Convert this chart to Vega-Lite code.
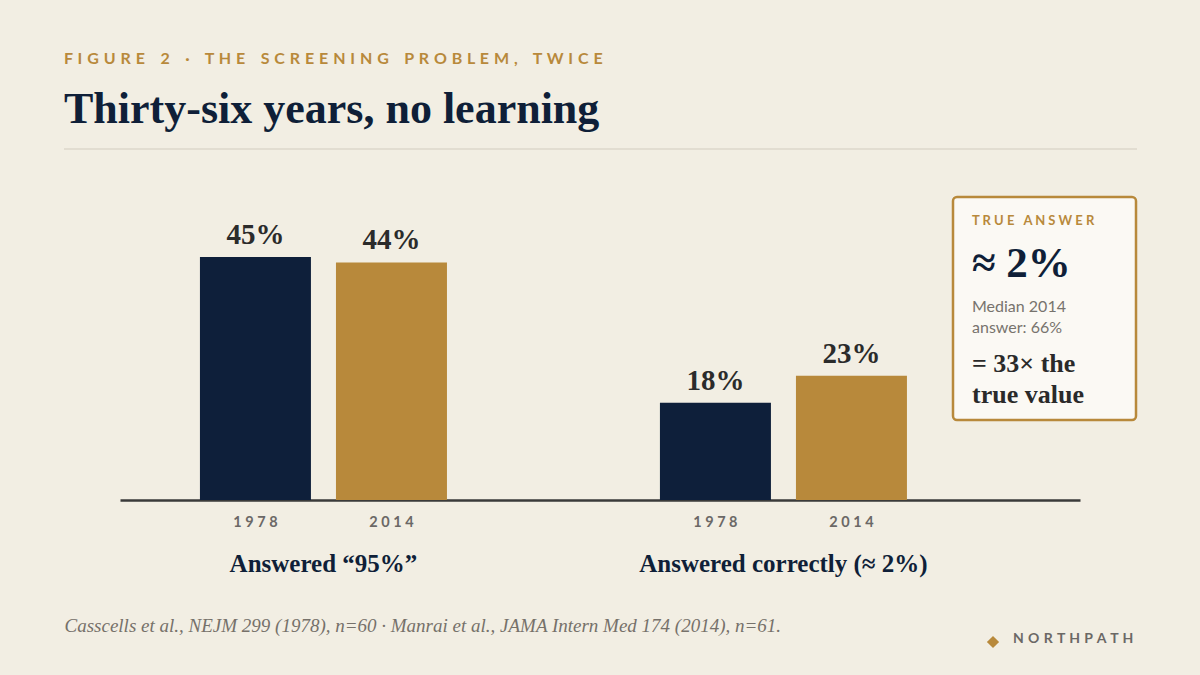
{
  "$schema": "https://vega.github.io/schema/vega-lite/v6.json",
  "width": 960,
  "height": 324,
  "autosize": {"type": "none"},
  "padding": {"left": 120, "top": 176, "right": 120, "bottom": 175},
  "background": "#f2eee3",
  "config": {"view": {"stroke": null}},
  "title": {
    "text": "F \u200aI \u200aG \u200aU \u200aR \u200aE\u00a0\u00a0\u00a0\u00a02\u00a0\u00a0\u00a0\u00a0·\u00a0\u00a0\u00a0\u00a0T \u200aH \u200aE\u00a0\u00a0\u00a0\u00a0S \u200aC \u200aR \u200aE \u200aE \u200aN \u200aI \u200aN \u200aG\u00a0\u00a0\u00a0\u00a0P \u200aR \u200aO \u200aB \u200aL \u200aE \u200aM \u200a,\u00a0\u00a0\u00a0\u00a0T \u200aW \u200aI \u200aC \u200aE",
    "subtitle": "Thirty-six years, no learning",
    "anchor": "start",
    "frame": "group",
    "dx": -56,
    "offset": 16,
    "font": "Lato",
    "fontSize": 16,
    "fontWeight": "bold",
    "color": "#b8893b",
    "subtitleFont": "Liberation Serif",
    "subtitleFontSize": 44,
    "subtitleFontWeight": "bold",
    "subtitleColor": "#0f1f38",
    "subtitlePadding": 21
  },
  "datasets": {
    "bars": [
      {"measure": "Answered “95%”", "year": "1978", "share": 0.45},
      {"measure": "Answered “95%”", "year": "2014", "share": 0.44},
      {"measure": "Answered correctly (≈ 2%)", "year": "1978", "share": 0.18},
      {"measure": "Answered correctly (≈ 2%)", "year": "2014", "share": 0.23}
    ]
  },
  "layer": [
    {
      "data": {"name": "bars"},
      "encoding": {
        "x": {
          "field": "measure", "type": "nominal", "sort": null,
          "scale": {"paddingInner": 0.463, "paddingOuter": 0.275, "align": 0.316},
          "axis": {
            "title": "Casscells et al., NEJM 299 (1978), n=60 · Manrai et al., JAMA Intern Med 174 (2014), n=61.",
            "titleFont": "Liberation Serif", "titleFontStyle": "italic", "titleFontWeight": "normal",
            "titleFontSize": 19, "titleColor": "#76716a",
            "titleAnchor": "start", "titleAlign": "left", "titleBaseline": "alphabetic",
            "titleX": -56, "titleY": 131, "titleLimit": 1000,
            "labelAngle": 0, "labelFont": "Liberation Serif", "labelFontWeight": "bold",
            "labelFontSize": 25, "labelColor": "#0f1f38", "labelBaseline": "alphabetic",
            "labelPadding": 71, "labelLimit": 500, "ticks": false, "tickSize": 0,
            "domainColor": "#3a3a3a", "domainWidth": 2.5, "grid": false
          }
        },
        "xOffset": {"field": "year", "type": "nominal", "scale": {"paddingInner": 0.184, "paddingOuter": 0}},
        "y": {"field": "share", "type": "quantitative", "scale": {"domain": [0, 0.6], "nice": false}, "axis": null}
      },
      "layer": [
        {
          "mark": {"type": "bar"},
          "encoding": {
            "color": {"field": "year", "type": "nominal", "scale": {"domain": ["1978", "2014"], "range": ["#0e1f3a", "#b8893b"]}, "legend": null}
          }
        },
        {
          "mark": {"type": "text", "baseline": "alphabetic", "dy": -13, "font": "Liberation Serif", "fontWeight": "bold", "fontSize": 29, "color": "#2b2b2b"},
          "encoding": {"text": {"field": "share", "type": "quantitative", "format": ".0%"}}
        },
        {
          "transform": [{"calculate": "join(split(datum.year, ''), '\u00a0')", "as": "yearLabel"}],
          "mark": {"type": "text", "baseline": "alphabetic", "dy": 27, "font": "Lato", "fontWeight": "bold", "fontSize": 14.5, "color": "#6b6866"},
          "encoding": {"y": {"datum": 0, "type": "quantitative"}, "text": {"field": "yearLabel", "type": "nominal"}}
        }
      ]
    },
    {
      "data": {"values": [{}]},
      "encoding": {
        "x": {"datum": 0, "type": "quantitative", "scale": {"domain": [0, 960], "nice": false, "zero": false}, "axis": null},
        "y": {"datum": 0, "type": "quantitative", "scale": {"domain": [0, 324], "nice": false, "zero": false, "reverse": true}, "axis": null}
      },
      "layer": [
        {
          "mark": {"type": "rule", "color": "#dcd7cb", "strokeWidth": 1.5},
          "encoding": {"x": {"datum": -56}, "x2": {"datum": 1017}, "y": {"datum": -27}}
        },
        {
          "mark": {"type": "rect", "fill": "#fbf9f4", "stroke": "#b8893b", "strokeWidth": 2.5, "cornerRadius": 4},
          "encoding": {"x": {"datum": 833}, "x2": {"datum": 1016}, "y": {"datum": 21}, "y2": {"datum": 244}}
        },
        {
          "mark": {"type": "text", "align": "left", "baseline": "alphabetic", "font": "Lato", "fontWeight": "bold", "fontSize": 13, "color": "#b8893b", "text": "T R U E \u00a0 A N S W E R"},
          "encoding": {"x": {"datum": 852}, "y": {"datum": 49}}
        },
        {
          "mark": {"type": "text", "align": "left", "baseline": "alphabetic", "font": "Liberation Serif", "fontWeight": "bold", "fontSize": 43, "color": "#0f1f38", "text": "≈ 2%"},
          "encoding": {"x": {"datum": 852}, "y": {"datum": 101}}
        },
        {
          "mark": {"type": "text", "align": "left", "baseline": "alphabetic", "font": "Lato", "fontSize": 16, "lineHeight": 21, "color": "#77736d", "text": ["Median 2014", "answer: 66%"]},
          "encoding": {"x": {"datum": 852}, "y": {"datum": 136}}
        },
        {
          "mark": {"type": "text", "align": "left", "baseline": "alphabetic", "font": "Liberation Serif", "fontWeight": "bold", "fontSize": 26, "lineHeight": 31, "color": "#2a2a2a", "text": ["= 33× the", "true value"]},
          "encoding": {"x": {"datum": 852}, "y": {"datum": 196}}
        },
        {
          "mark": {"type": "point", "shape": "diamond", "filled": true, "size": 150, "color": "#b8893b", "opacity": 1},
          "encoding": {"x": {"datum": 873}, "y": {"datum": 466}}
        },
        {
          "mark": {"type": "text", "align": "left", "baseline": "middle", "font": "Lato", "fontWeight": "bold", "fontSize": 14, "color": "#6b6866", "text": "N\u00a0\u200aO\u00a0\u200aR\u00a0\u200aT\u00a0\u200aH\u00a0\u200aP\u00a0\u200aA\u00a0\u200aT\u00a0\u200aH"},
          "encoding": {"x": {"datum": 893}, "y": {"datum": 463}}
        }
      ]
    }
  ],
  "resolve": {"scale": {"x": "independent", "y": "independent"}}
}
